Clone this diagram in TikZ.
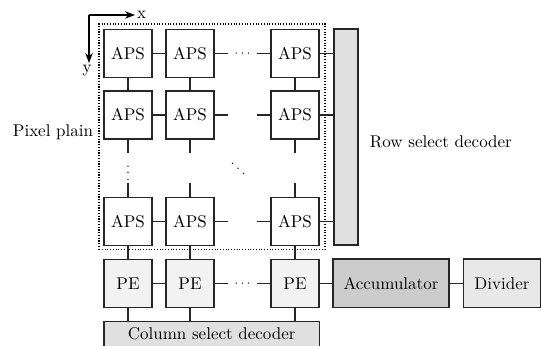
\documentclass[tikz,border=0pt]{standalone}
\usetikzlibrary{arrows.meta}
\begin{document}
\begin{tikzpicture}[x=0.6pt,y=-0.6pt,
  font=\fontsize{10.2}{12}\selectfont,
  wire/.style={line width=0.75pt, draw=black!85},
  cell/.style={draw=black!85, line width=0.75pt, minimum width=28.8pt,
    minimum height=28.8pt, inner sep=0pt, fill=white},
  pebox/.style={cell, fill=black!5},
  block/.style={draw=black!85, line width=0.75pt, inner sep=0pt},
  gap/.style={inner sep=0pt, minimum width=17.4pt},
  elide/.style={inner sep=0pt, font=\fontsize{7.4}{8}\selectfont}]
\useasboundingbox (0,0) rectangle (541,345);

% pixel array outline
\node[draw=black, densely dotted, line width=0.65pt, minimum width=135.6pt,
  minimum height=135.2pt, inner sep=0pt] (plain) at (212,136.7) {};

% APS cells: rows 1..3, columns 1..3
\foreach \r/\y in {1/53.5,2/115,3/221.5}{
  \foreach \c/\x in {1/128,2/190,3/295}{
    \node[cell] (a\r\c) at (\x,\y) {APS};
  }
}

% processing elements
\node[pebox] (p1) at (128,283.4) {PE};
\node[pebox] (p2) at (190,283.4) {PE};
\node[pebox] (p3) at (295,283.4) {PE};

% decoders and back-end blocks
\node[block, fill=black!12, minimum width=14.4pt, minimum height=129.6pt] (rowdec) at (346,137) {};
\node[block, fill=black!12, minimum width=129.2pt, minimum height=14.8pt] (coldec) at (211.7,334) {Column select decoder};
\node[block, fill=black!20, minimum width=69.6pt, minimum height=29.2pt] (acc) at (391,283.4) {Accumulator};
\node[block, fill=black!9, minimum width=46.6pt, minimum height=29.2pt] (div) at (502,283.4) {Divider};

% labels
\node (lplain) at (53,132) {Pixel plain};
\node[anchor=west] (lrow) at (364,141.5) {Row select decoder};

% ellipses
\node[gap, elide] (d1) at (242.5,53.5) {$\cdots$};
\node[gap, elide] (dp) at (242.5,283.4) {$\cdots$};
\node[elide] (vd) at (128,168) {$\vdots$};
\node[elide] (dd) at (238,164) {$\ddots$};

% open ends of the elided wires
\coordinate (g2l) at (228,115);  \coordinate (g2r) at (257,115);
\coordinate (g3l) at (228,221.5); \coordinate (g3r) at (257,221.5);
\foreach \c/\x in {1/128,2/190,3/295}{
  \coordinate (s\c) at (\x,153);
  \coordinate (t\c) at (\x,183);
}

% horizontal wiring
\draw[wire] (a11.east) -- (a12.west);
\draw[wire] (a12.east) -- (d1.west);
\draw[wire] (d1.east) -- (a13.west);
\draw[wire] (a21.east) -- (a22.west);
\draw[wire] (a22.east) -- (g2l);
\draw[wire] (g2r) -- (a23.west);
\draw[wire] (a31.east) -- (a32.west);
\draw[wire] (a32.east) -- (g3l);
\draw[wire] (g3r) -- (a33.west);
\foreach \r in {1,2,3}{
  \draw[wire] (a\r3.east) -- (a\r3.east -| rowdec.west);
}
\draw[wire] (p1.east) -- (p2.west);
\draw[wire] (p2.east) -- (dp.west);
\draw[wire] (dp.east) -- (p3.west);
\draw[wire] (p3.east) -- (acc.west);
\draw[wire] (acc.east) -- (div.west);

% vertical wiring
\foreach \c in {1,2,3}{
  \draw[wire] (a1\c.south) -- (a2\c.north);
  \draw[wire] (a2\c.south) -- (s\c);
  \draw[wire] (t\c) -- (a3\c.north);
  \draw[wire] (a3\c.south) -- (p\c.north);
  \draw[wire] (p\c.south) -- (p\c.south |- coldec.north);
}

% coordinate axes
\coordinate (o) at (89,15);
\coordinate (xe) at (135,15);
\coordinate (ye) at (89,63);
\draw[line width=0.75pt, -{Stealth[length=6pt,width=4.5pt]}] (o) -- (xe);
\draw[line width=0.75pt, -{Stealth[length=6pt,width=4.5pt]}] (o) -- (ye);
\node[anchor=west, inner sep=1pt] (lx) at (xe) {x};
\node[anchor=north, inner sep=1pt] (ly) at (87,63) {y};
\end{tikzpicture}
\end{document}
